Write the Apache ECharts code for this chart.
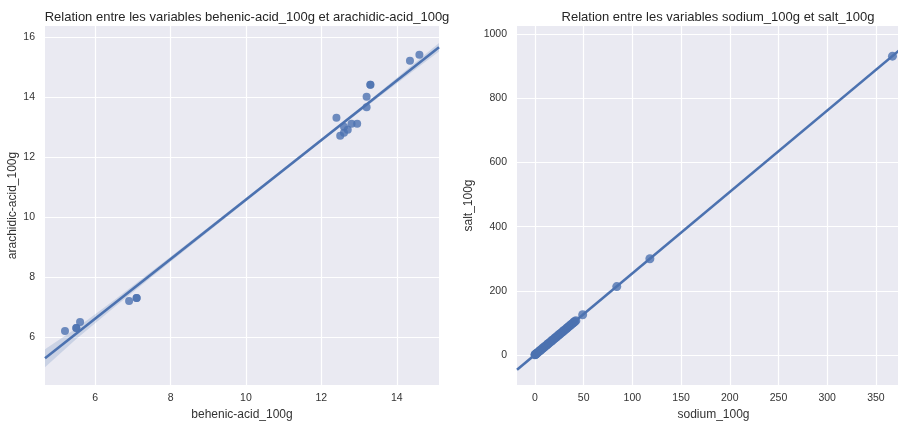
<!DOCTYPE html>
<html><head><meta charset="utf-8">
<script src="https://cdn.jsdelivr.net/npm/echarts@6/dist/echarts.min.js"></script>
<style>html,body{margin:0;padding:0;background:#fff}#c{width:898px;height:421px}</style>
</head><body><div id="c"></div>
<script>
// Left panel data: behenic-acid_100g vs arachidic-acid_100g
const leftPoints = [
  [5.2, 6.2], [5.5, 6.3], [5.5, 6.3], [5.6, 6.5], [6.9, 7.2], [7.1, 7.3], [7.1, 7.3],
  [12.4, 13.3], [12.5, 12.7], [12.6, 12.8], [12.6, 13.0], [12.7, 12.9], [12.8, 13.1],
  [12.95, 13.1], [13.2, 14.0], [13.2, 13.65], [13.3, 14.4], [13.3, 14.4], [14.35, 15.2], [14.6, 15.4]
];
const leftFit = [[4.67, 5.29], [15.12, 15.65]];
// confidence band: x, lower, upper
const leftBandX = [4.67, 5.5, 6.5, 8, 10, 12, 13.5, 15.12];
const leftBandLo = [4.99, 5.93, 6.98, 8.51, 10.51, 12.51, 13.97, 15.51];
const leftBandHi = [5.59, 6.29, 7.22, 8.67, 10.63, 12.61, 14.11, 15.79];
const leftXTicks = [6, 8, 10, 12, 14];
const leftYTicks = [6, 8, 10, 12, 14, 16];

// Right panel data: sodium_100g vs salt_100g
const rightPoints = [
  [0, 0], [0.3, 0.8], [0.6, 1.5], [1, 2.5], [1.5, 3.8], [2, 5.1], [3, 7.6], [4, 10.2], [5, 12.7],
  [6, 15.2], [7, 17.8], [8, 20.3], [9, 22.9], [10, 25.4], [11, 27.9], [12, 30.5], [13, 33],
  [14, 35.6], [15, 38.1], [16, 40.6], [17, 43.2], [18, 45.7], [19, 48.3], [20, 50.8], [21, 53.3],
  [22, 55.9], [23, 58.4], [24, 61], [25, 63.5], [26, 66], [27, 68.6], [28, 71.1], [29, 73.7],
  [30, 76.2], [31, 78.7], [32, 81.3], [33, 83.8], [34, 86.4], [35, 88.9], [36, 91.4], [37, 94],
  [38, 96.5], [39, 99.1], [40, 101.6], [41, 104.1], [42, 106.7],
  [49, 125], [84, 213], [118, 300], [367, 932]
];
const rightFit = [[-18.4, -46.7], [385, 978]];
const rightXTicks = [0, 50, 100, 150, 200, 250, 300, 350];
const rightYTicks = [0, 200, 400, 600, 800, 1000];

const blue = '#4C72B0';
const font = '"Liberation Sans", Arial, sans-serif';
const txt = '#333333';

function axisCommon(name, ticks, min, max, isX, gap, margin) {
  return {
    type: 'value', min: min, max: max, name: name,
    nameLocation: 'middle', nameGap: gap,
    nameTextStyle: { color: txt, fontSize: 12, fontFamily: font },
    axisLine: { show: false },
    axisTick: { show: false, customValues: ticks },
    axisLabel: { customValues: ticks, color: txt, fontSize: 10.5, fontFamily: font, margin: margin,
      formatter: v => String(v) },
    splitLine: { show: true, lineStyle: { color: '#ffffff', width: 1.2 } }
  };
}

const chart = echarts.init(document.getElementById('c'), null, { renderer: 'canvas' });
const bandData = [[0]];

chart.setOption({
  animation: false,
  backgroundColor: '#ffffff',
  title: [
    { text: 'Relation entre les variables behenic-acid_100g et arachidic-acid_100g', left: 242, top: 6, textAlign: 'center',
      textStyle: { fontFamily: font, fontSize: 13, fontWeight: 'normal', color: '#262626' } },
    { text: 'Relation entre les variables sodium_100g et salt_100g', left: 713, top: 6, textAlign: 'center',
      textStyle: { fontFamily: font, fontSize: 13, fontWeight: 'normal', color: '#262626' } }
  ],
  grid: [
    { left: 45, width: 394, top: 26, bottom: 36, show: true, backgroundColor: '#EAEAF2', borderWidth: 0,
      containLabel: false, outerBoundsMode: 'none' },
    { left: 517, width: 393, top: 26, bottom: 36, show: true, backgroundColor: '#EAEAF2', borderWidth: 0,
      containLabel: false, outerBoundsMode: 'none' }
  ],
  xAxis: [
    Object.assign(axisCommon('behenic-acid_100g', leftXTicks, 4.67, 15.12, true, 23, 8), { gridIndex: 0 }),
    Object.assign(axisCommon('sodium_100g', rightXTicks, -18.4, 385, true, 23, 8), { gridIndex: 1 })
  ],
  yAxis: [
    Object.assign(axisCommon('arachidic-acid_100g', leftYTicks, 4.40, 16.36, false, 26, 10), { gridIndex: 0 }),
    Object.assign(axisCommon('salt_100g', rightYTicks, -94, 1026, false, 42, 10), { gridIndex: 1 })
  ],
  series: [
    { type: 'custom', xAxisIndex: 0, yAxisIndex: 0, data: bandData, silent: true, z: 1,
      clip: true,
      renderItem: function (params, api) {
        const pts = [];
        for (let i = 0; i < leftBandX.length; i++) pts.push(api.coord([leftBandX[i], leftBandHi[i]]));
        for (let i = leftBandX.length - 1; i >= 0; i--) pts.push(api.coord([leftBandX[i], leftBandLo[i]]));
        return { type: 'polygon', shape: { points: pts }, style: { fill: 'rgba(76,114,176,0.2)' } };
      }
    },
    { type: 'scatter', xAxisIndex: 0, yAxisIndex: 0, data: leftPoints, symbolSize: 8,
      itemStyle: { color: blue, opacity: 0.8 }, z: 3 },
    { type: 'line', xAxisIndex: 0, yAxisIndex: 0, data: leftFit, symbol: 'none',
      lineStyle: { color: blue, width: 2.6 }, z: 4 },
    { type: 'scatter', xAxisIndex: 1, yAxisIndex: 1, data: rightPoints, symbolSize: 9,
      itemStyle: { color: blue, opacity: 0.8 }, z: 3 },
    { type: 'line', xAxisIndex: 1, yAxisIndex: 1, data: rightFit, symbol: 'none',
      lineStyle: { color: blue, width: 2.6 }, z: 4 }
  ]
});
</script></body></html>
